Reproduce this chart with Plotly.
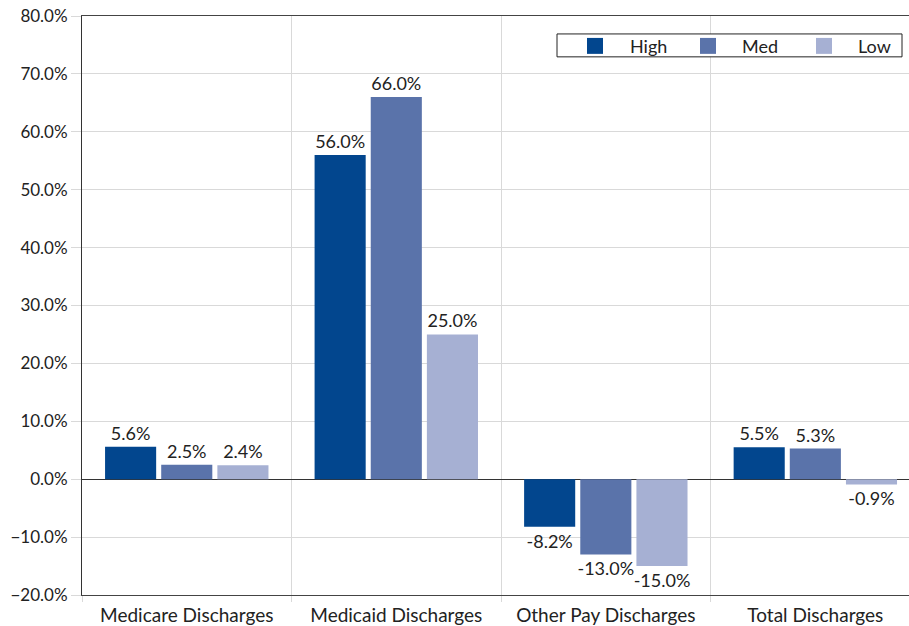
import plotly.graph_objects as go

# Percent change in discharges by payer, grouped by level
categories = ["Medicare Discharges", "Medicaid Discharges", "Other Pay Discharges", "Total Discharges"]
high = [5.6, 56.0, -8.2, 5.5]
med = [2.5, 66.0, -13.0, 5.3]
low = [2.4, 25.0, -15.0, -0.9]
series_names = ["High", "Med", "Low"]
series_colors = ["#02468e", "#5a73aa", "#a6b0d3"]

FONT = "Lato, 'Open Sans', sans-serif"
TEXT_COLOR = "#222222"

# plot-area geometry (pixels) used to place the hand-drawn legend
W, H = 909, 626
ML, MR, MT, MB = 82, 0, 16, 29
PW, PH = W - ML - MR, H - MT - MB


def px_x(v):
    return (v - ML) / PW


def px_y(v):
    return (H - MB - v) / PH


fig = go.Figure()
for name, vals, color in zip(series_names, [high, med, low], series_colors):
    fig.add_trace(go.Bar(
        name=name,
        x=categories,
        y=vals,
        marker=dict(color=color, line=dict(width=0)),
        texttemplate="%{y:.1f}%",
        textposition="outside",
        constraintext="none",
        textfont=dict(family=FONT, size=18, color=TEXT_COLOR),
        cliponaxis=False,
        showlegend=False,
    ))

# legend: framed box with colour swatches and labels
shapes = [dict(type="rect", xref="paper", yref="paper",
               x0=px_x(557), x1=px_x(902), y0=px_y(57), y1=px_y(34),
               line=dict(color="#222222", width=1), fillcolor="white", layer="above")]
annotations = []
swatch_left = [587, 700, 816]
label_left = [628, 740, 856]
for name, color, sx, lx in zip(series_names, series_colors, swatch_left, label_left):
    shapes.append(dict(type="rect", xref="paper", yref="paper",
                       x0=px_x(sx), x1=px_x(sx + 16), y0=px_y(54), y1=px_y(38),
                       line=dict(width=0), fillcolor=color, layer="above"))
    annotations.append(dict(xref="paper", yref="paper", x=px_x(lx), y=px_y(46),
                            xanchor="left", yanchor="middle", text=name, showarrow=False,
                            font=dict(family=FONT, size=18, color=TEXT_COLOR)))

fig.update_layout(
    width=W,
    height=H,
    margin=dict(l=ML, r=MR, t=MT, b=MB),
    paper_bgcolor="white",
    plot_bgcolor="white",
    font=dict(family=FONT, size=17, color=TEXT_COLOR),
    barmode="group",
    bargap=0.196,
    bargroupgap=0.09,
    showlegend=False,
    shapes=shapes,
    annotations=annotations,
    xaxis=dict(
        type="category",
        range=[-0.5, 3.447],
        tickson="boundaries",
        showgrid=True,
        gridcolor="#d9d9d9",
        gridwidth=1,
        ticks="outside",
        ticklen=6,
        tickcolor="#d9d9d9",
        ticklabelstandoff=3,
        showline=True,
        linecolor="#444444",
        linewidth=1,
        mirror=True,
        tickfont=dict(family=FONT, size=19, color=TEXT_COLOR),
    ),
    yaxis=dict(
        range=[-20, 80],
        dtick=10,
        tickformat=".1f",
        ticksuffix="%",
        showgrid=True,
        gridcolor="#d9d9d9",
        gridwidth=1,
        ticks="outside",
        ticklen=10,
        tickcolor="#d9d9d9",
        showline=True,
        linecolor="#333333",
        linewidth=1,
        zeroline=True,
        zerolinecolor="#333333",
        zerolinewidth=1,
        tickfont=dict(family=FONT, size=17, color=TEXT_COLOR),
    ),
)

fig.write_html("out.html")
